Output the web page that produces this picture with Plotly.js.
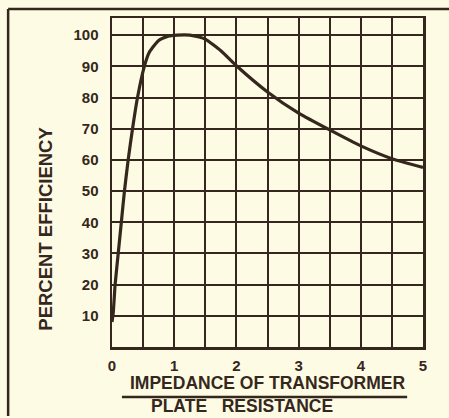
<!DOCTYPE html>
<html>
<head>
<meta charset="utf-8">
<script src="https://cdn.plot.ly/plotly-3.0.1.min.js"></script>
<style>
  html, body { margin: 0; padding: 0; background: #fdfbe3; }
  #chart { width: 449px; height: 418px; }
</style>
</head>
<body>
<div id="chart"></div>
<script>
// Ratio: impedance of transformer / plate resistance
const ratio = [0, 0.02, 0.05, 0.1, 0.15, 0.2, 0.26, 0.33, 0.41, 0.52, 0.6, 0.75, 0.9, 1.05, 1.25, 1.4, 1.5, 1.75, 2.0, 2.5, 3.0, 3.5, 4.0, 4.5, 5.0];
// Percent efficiency
const efficiency = [8, 11, 20, 30, 40, 50, 60, 70, 80, 90, 94.5, 98.3, 99.7, 100, 100, 99.4, 98.7, 95, 90.2, 81.8, 75, 69.6, 64.5, 60.4, 57.6];

const xTickVals = [0, 0.5, 1, 1.5, 2, 2.5, 3, 3.5, 4, 4.5, 5];
const xTickText = ['0', '', '1', '', '2', '', '3', '', '4', '', '5'];
const yTickVals = [10, 20, 30, 40, 50, 60, 70, 80, 90, 100];
const yTickText = ['10', '20', '30', '40', '50', '60', '70', '80', '90', '100'];

const yTitle = 'PERCENT EFFICIENCY';
const xTitleTop = 'IMPEDANCE OF TRANSFORMER';
const xTitleBottom = 'PLATE&nbsp;&nbsp;&nbsp;RESISTANCE';

const ink = '#35271d';
const bg = '#fdfbe3';
const fontFam = '"Liberation Sans", Arial, sans-serif';

const trace = {
  x: ratio,
  y: efficiency,
  type: 'scatter',
  mode: 'lines',
  line: { color: ink, width: 3.2, shape: 'spline', smoothing: 0.5 },
  hoverinfo: 'skip'
};

const layout = {
  width: 449,
  height: 418,
  margin: { l: 112, r: 26, t: 18, b: 71 },
  paper_bgcolor: bg,
  plot_bgcolor: bg,
  showlegend: false,
  font: { family: fontFam, color: ink },
  xaxis: {
    range: [0, 5],
    tickmode: 'array',
    tickvals: xTickVals,
    ticktext: xTickText,
    showgrid: true,
    gridcolor: ink,
    gridwidth: 2,
    showline: true,
    mirror: true,
    linecolor: ink,
    linewidth: 2.5,
    zeroline: false,
    ticks: 'outside',
    ticklen: 3,
    tickcolor: 'rgba(0,0,0,0)',
    tickfont: { family: fontFam, size: 15, color: ink, weight: 'bold' },
    fixedrange: true
  },
  yaxis: {
    range: [0, 105.5],
    tickmode: 'array',
    tickvals: yTickVals,
    ticktext: yTickText,
    showgrid: true,
    gridcolor: ink,
    gridwidth: 2,
    showline: true,
    mirror: true,
    linecolor: ink,
    linewidth: 2.5,
    zeroline: false,
    ticks: 'outside',
    ticklen: 8,
    tickcolor: 'rgba(0,0,0,0)',
    tickfont: { family: fontFam, size: 15, color: ink, weight: 'bold' },
    fixedrange: true
  },
  annotations: [
    {
      text: yTitle,
      xref: 'paper', yref: 'paper',
      x: -0.215, y: 0.36,
      xanchor: 'center', yanchor: 'middle',
      textangle: -90,
      showarrow: false,
      font: { family: fontFam, size: 18.5, color: ink, weight: 'bold' }
    },
    {
      text: xTitleTop,
      xref: 'paper', yref: 'paper',
      x: 0.502, y: -0.109,
      xanchor: 'center', yanchor: 'middle',
      showarrow: false,
      font: { family: fontFam, size: 17.5, color: ink, weight: 'bold' }
    },
    {
      text: xTitleBottom,
      xref: 'paper', yref: 'paper',
      x: 0.418, y: -0.18,
      xanchor: 'center', yanchor: 'middle',
      showarrow: false,
      font: { family: fontFam, size: 17.5, color: ink, weight: 'bold' }
    }
  ],
  shapes: [
    // fraction bar
    { type: 'line', xref: 'paper', yref: 'paper', x0: 0.032, x1: 0.949, y0: -0.152, y1: -0.152, line: { color: ink, width: 2.5 } },
    // outer frame: left and top edges
    { type: 'line', xref: 'paper', yref: 'paper', x0: -0.334, x1: -0.334, y0: 1.027, y1: -0.21, line: { color: ink, width: 2.5 } },
    { type: 'line', xref: 'paper', yref: 'paper', x0: -0.334, x1: 1.09, y0: 1.027, y1: 1.027, line: { color: ink, width: 2.5 } }
  ]
};

Plotly.newPlot('chart', [trace], layout, { displayModeBar: false, staticPlot: true });
</script>
</body>
</html>
